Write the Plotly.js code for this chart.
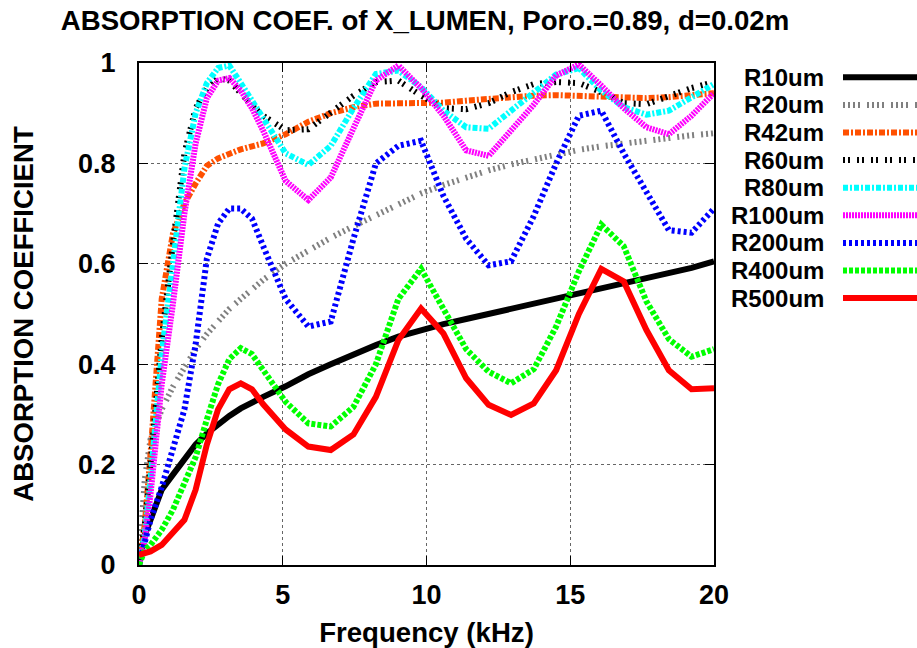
<!DOCTYPE html>
<html>
<head>
<meta charset="utf-8">
<script src="https://cdn.plot.ly/plotly-3.0.1.min.js"></script>
<style>
  html, body { margin: 0; padding: 0; background: #fff; }
  #chart { width: 917px; height: 648px; }
</style>
</head>
<body>
<div id="chart"></div>
<script>
// Frequency samples (kHz)
const freq = [0, 0.2, 0.4, 0.79, 1.18, 1.58, 1.97, 2.36, 2.75, 3.14, 3.54, 3.93, 4.32, 5.1, 5.89, 6.67, 7.46, 8.24, 9.02, 9.81, 10.59, 11.38, 12.16, 12.94, 13.73, 14.51, 15.3, 16.08, 16.86, 17.65, 18.43, 19.22, 20.0];

// Absorption coefficient per fibre radius
const R10um  = [0, 0.06, 0.09, 0.15, 0.18, 0.21, 0.24, 0.262, 0.28, 0.297, 0.312, 0.324, 0.335, 0.356, 0.38, 0.40, 0.42, 0.438, 0.455, 0.468, 0.48, 0.49, 0.50, 0.51, 0.52, 0.53, 0.54, 0.55, 0.56, 0.57, 0.58, 0.592, 0.605];
const R20um  = [0, 0.17, 0.25, 0.31, 0.355, 0.395, 0.43, 0.46, 0.485, 0.51, 0.53, 0.55, 0.568, 0.60, 0.627, 0.652, 0.675, 0.697, 0.718, 0.74, 0.757, 0.772, 0.786, 0.798, 0.808, 0.818, 0.827, 0.834, 0.84, 0.846, 0.851, 0.856, 0.86];
const R42um  = [0, 0.08, 0.22, 0.53, 0.66, 0.72, 0.76, 0.795, 0.81, 0.82, 0.828, 0.834, 0.84, 0.858, 0.883, 0.90, 0.912, 0.919, 0.92, 0.919, 0.921, 0.925, 0.929, 0.932, 0.935, 0.936, 0.934, 0.932, 0.93, 0.93, 0.932, 0.935, 0.94];
const R60um  = [0, 0.08, 0.2, 0.45, 0.64, 0.82, 0.91, 0.95, 0.97, 0.965, 0.94, 0.915, 0.895, 0.866, 0.868, 0.9, 0.935, 0.962, 0.965, 0.935, 0.91, 0.908, 0.92, 0.942, 0.958, 0.962, 0.96, 0.942, 0.92, 0.918, 0.935, 0.95, 0.962];
const R80um  = [0, 0.06, 0.17, 0.42, 0.6, 0.79, 0.9, 0.96, 0.99, 0.995, 0.96, 0.925, 0.89, 0.82, 0.797, 0.835, 0.91, 0.978, 0.985, 0.952, 0.905, 0.872, 0.869, 0.905, 0.943, 0.977, 0.99, 0.945, 0.912, 0.897, 0.905, 0.93, 0.958];
const R100um = [0, 0.05, 0.14, 0.36, 0.52, 0.7, 0.84, 0.93, 0.965, 0.97, 0.945, 0.91, 0.865, 0.765, 0.727, 0.772, 0.87, 0.965, 0.995, 0.95, 0.895, 0.826, 0.815, 0.865, 0.917, 0.975, 0.997, 0.955, 0.91, 0.872, 0.858, 0.895, 0.94];
const R200um = [0, 0.04, 0.09, 0.155, 0.23, 0.31, 0.44, 0.61, 0.68, 0.71, 0.71, 0.69, 0.635, 0.53, 0.475, 0.485, 0.65, 0.80, 0.835, 0.845, 0.735, 0.65, 0.597, 0.605, 0.695, 0.80, 0.895, 0.905, 0.82, 0.74, 0.667, 0.662, 0.71];
const R400um = [0, 0.03, 0.04, 0.07, 0.11, 0.16, 0.215, 0.29, 0.36, 0.41, 0.432, 0.42, 0.39, 0.325, 0.282, 0.276, 0.315, 0.40, 0.53, 0.59, 0.51, 0.43, 0.385, 0.362, 0.39, 0.475, 0.585, 0.678, 0.635, 0.525, 0.45, 0.415, 0.43];
const R500um = [0.02, 0.022, 0.027, 0.04, 0.065, 0.09, 0.15, 0.24, 0.31, 0.35, 0.362, 0.35, 0.32, 0.27, 0.236, 0.229, 0.26, 0.335, 0.448, 0.511, 0.461, 0.372, 0.319, 0.299, 0.322, 0.388, 0.50, 0.59, 0.565, 0.468, 0.388, 0.35, 0.352];

const seriesNames = ['R10um', 'R20um', 'R42um', 'R60um', 'R80um', 'R100um', 'R200um', 'R400um', 'R500um'];
const seriesData  = [R10um, R20um, R42um, R60um, R80um, R100um, R200um, R400um, R500um];
const seriesColor = ['#000000', '#808080', '#ff5000', '#000000', '#00ffff', '#ff00ff', '#0000ff', '#00ff00', '#ff0000'];
const seriesDash  = ['solid', '2px,3px,2px,3px,2px,3px,2px,7px', '6px,2px,2px,2px', '2px,3px,2px,7px', '5px,2px,2px,2px', '2px,1px', '3px,3px', '4px,2px', 'solid'];
const seriesWidth = [6, 6, 6, 6, 6, 6, 6, 6, 6];

const FONT = 'Liberation Sans, Arial, Helvetica, sans-serif';

const traces = seriesNames.map((name, i) => ({
  type: 'scatter',
  mode: 'lines',
  name: name,
  x: freq,
  y: seriesData[i],
  line: { color: seriesColor[i], dash: seriesDash[i], width: seriesWidth[i] },
  showlegend: false,
  cliponaxis: true
}));

// Gnuplot-style key: label on the left, line sample on the right
const plotL = 139, plotR = 714, plotT = 63, plotB = 565;
const pxToPaperX = px => (px - plotL) / (plotR - plotL);
const pxToPaperY = py => (plotB - py) / (plotB - plotT);
const annotations = [];
const shapes = [];
seriesNames.forEach((name, i) => {
  const py = 77.3 + 27.6 * i;
  annotations.push({
    xref: 'paper', yref: 'paper',
    x: pxToPaperX(826), y: pxToPaperY(py),
    xanchor: 'right', yanchor: 'middle',
    text: name, showarrow: false,
    font: { family: FONT, size: 24, color: '#000', weight: 'bold' }
  });
  shapes.push({
    type: 'line', xref: 'paper', yref: 'paper',
    x0: pxToPaperX(843), x1: pxToPaperX(935),
    y0: pxToPaperY(py), y1: pxToPaperY(py),
    line: { color: seriesColor[i], dash: seriesDash[i], width: seriesWidth[i] }
  });
});

const layout = {
  width: 917, height: 648,
  margin: { l: plotL, r: 917 - plotR, t: plotT, b: 648 - plotB, pad: 0 },
  paper_bgcolor: '#fff', plot_bgcolor: '#fff',
  font: { family: FONT, size: 27, color: '#000', weight: 'bold' },
  title: {
    text: 'ABSORPTION COEF. of X_LUMEN, Poro.=0.89, d=0.02m',
    font: { family: FONT, size: 27.6, color: '#000', weight: 'bold' },
    x: 425 / 917, xanchor: 'center', xref: 'container',
    y: 1 - 20 / 648, yanchor: 'middle', yref: 'container'
  },
  xaxis: {
    range: [0, 20], tickvals: [0, 5, 10, 15, 20], ticktext: ['0', '5', '10', '15', '20'],
    showline: true, linecolor: '#000', linewidth: 2, mirror: 'ticks',
    ticks: 'inside', ticklen: 9, tickwidth: 1, tickcolor: '#000',
    showgrid: true, gridcolor: '#666', griddash: 'dot', gridwidth: 1,
    zeroline: false, ticklabelstandoff: 5,
    tickfont: { family: FONT, size: 27, color: '#000', weight: 'bold' },
    title: { text: 'Frequency (kHz)', standoff: 18, font: { family: FONT, size: 27.6, color: '#000', weight: 'bold' } },
    automargin: false
  },
  yaxis: {
    range: [0, 1], tickvals: [0, 0.2, 0.4, 0.6, 0.8, 1], ticktext: ['0', '0.2', '0.4', '0.6', '0.8', '1'],
    showline: true, linecolor: '#000', linewidth: 2, mirror: 'ticks',
    ticks: 'inside', ticklen: 9, tickwidth: 1, tickcolor: '#000',
    showgrid: true, gridcolor: '#666', griddash: 'dot', gridwidth: 1,
    zeroline: false, ticklabelstandoff: 16,
    tickfont: { family: FONT, size: 27, color: '#000', weight: 'bold' },
    title: { text: 'ABSORPTION COEFFICIENT', standoff: 36, font: { family: FONT, size: 27.6, color: '#000', weight: 'bold' } },
    automargin: false
  },
  annotations: annotations,
  shapes: shapes,
  showlegend: false
};

Plotly.newPlot('chart', traces, layout, { displayModeBar: false, staticPlot: true });
</script>
</body>
</html>
